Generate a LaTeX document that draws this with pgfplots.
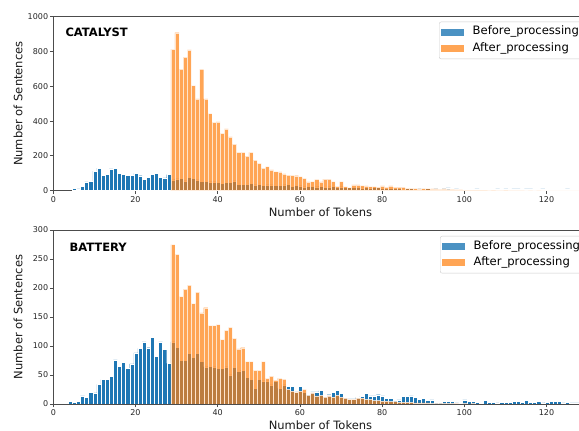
\documentclass[border=0pt]{standalone}
\usepackage{fontspec}
\setmainfont{DejaVu Sans}
\usepackage{pgfplots}
\usepackage{pgfplotstable}
\pgfplotsset{compat=1.18}
\definecolor{mblue}{HTML}{1F77B4}
\definecolor{morange}{HTML}{FF7F0E}
\definecolor{spine}{gray}{0.3}

\pgfplotstableread{
x b a
5 12 nan
6 10 nan
7 25 nan
8 50 nan
9 55 nan
10 112 nan
11 130 nan
12 90 nan
13 92 nan
14 125 nan
15 130 nan
16 98 nan
17 92 nan
18 89 nan
19 89 nan
20 100 nan
21 86 nan
22 65 nan
23 75 nan
24 92 nan
25 100 nan
26 75 nan
27 73 nan
28 93 nan
29 62 812
30 68 908
31 70 698
32 57 768
33 76 809
34 70 604
35 62 527
36 52 698
37 52 527
38 50 443
39 50 392
40 48 395
41 44 330
42 48 356
43 48 310
44 56 268
45 38 220
46 38 220
47 36 199
48 42 220
49 34 176
50 36 157
51 30 130
52 34 138
53 34 120
54 32 110
55 30 108
56 34 96
57 36 90
58 26 88
59 30 86
60 28 81
61 22 71
62 26 50
63 24 52
64 22 65
65 26 50
66 20 67
67 22 66
68 26 52
69 20 25
70 22 52
71 18 23
72 20 18
73 18 33
74 20 33
75 16 29
76 18 27
77 16 23
78 18 23
79 20 20
80 16 27
81 14 20
82 12 27
83 14 20
84 16 20
85 10 20
86 12 14
87 12 14
88 10 12
89 10 10
90 10 12
91 12 12
92 8 10
93 10 10
94 8 8
95 10 10
96 16 8
97 8 8
98 10 6
99 6 5
100 8 4
101 6 4
102 8 3
103 10 4
104 6 3
105 6 3
106 8 2
107 6 3
108 10 2
109 6 2
110 10 3
111 8 2
112 10 2
113 10 2
114 8 2
115 10 1
116 10 2
117 6 1
118 8 2
119 10 1
120 6 1
121 4 1
122 8 1
123 8 1
124 6 1
125 10 1
126 6 1
127 8 1
128 6 1
}\catalyst

\pgfplotstableread{
x b a
4 5 nan
5 3 nan
6 5 nan
7 14 nan
8 12 nan
9 20 nan
10 19 nan
11 34 nan
12 42 nan
13 43 nan
14 48 nan
15 76 nan
16 65 nan
17 72 nan
18 62 nan
19 69 nan
20 88 nan
21 96 nan
22 107 nan
23 97 nan
24 115 nan
25 82 nan
26 107 nan
27 94 nan
28 70 nan
29 107 275
30 98 258
31 75 185
32 75 198
33 87 205
34 81 173
35 87 193
36 73 157
37 64 166
38 65 135
39 64 135
40 61 137
41 61 111
42 64 127
43 50 132
44 63 113
45 56 95
46 58 97
47 46 73
48 43 73
49 27 58
50 42 58
51 40 73
52 40 44
53 33 48
54 40 41
55 27 44
56 33 43
57 31 25
58 30 22
59 21 20
60 30 22
61 20 25
62 17 15
63 21 19
64 21 14
65 23 15
66 13 12
67 16 14
68 20 12
69 23 15
70 18 12
71 12 10
72 9 8
73 9 8
74 12 10
75 13 10
76 18 8
77 14 8
78 14 6
79 16 6
80 14 5
81 10 5
82 10 4
83 6 4
84 7 3
85 13 3
86 13 3
87 14 3
88 12 2
89 8 2
90 10 2
91 6 2
92 7 1
93 3 1
94 3 1
95 4 1
96 5 1
97 5 1
98 2 1
100 7 1
101 5 nan
102 5 1
103 3 nan
105 6 nan
106 3 nan
107 3 nan
108 2 nan
109 3 nan
110 3 nan
111 3 nan
112 4 nan
113 5 nan
114 3 nan
115 6 nan
116 3 nan
117 3 nan
118 4 nan
119 2 nan
120 3 nan
121 4 nan
122 5 nan
123 4 nan
124 2 nan
125 3 nan
126 2 nan
127 2 nan
128 2 nan
}\battery

\pgfplotsset{
  legend image code/.code={\fill[#1,draw=none,rounded corners=0pt] (0pt,-3.5pt) rectangle (23pt,3.5pt);},
  hist/.style={
    scale only axis, width=534.3pt, height=174pt,
    xmin=0, xmax=130, ymin=0,
    xtick={0,20,...,120},
    axis line style={spine, line width=0.8pt},
    tick style={spine, line width=0.8pt},
    tick align=outside, tick pos=left, major tick length=3.5pt,
    ticklabel style={font=\fontsize{8}{9}\selectfont, text=black!85},
    yticklabel style={inner sep=1.5pt},
    xticklabel style={inner sep=2pt},
    /pgf/number format/assume math mode=true,
    scaled y ticks=false,
    /pgf/number format/1000 sep={},
    label style={font=\fontsize{11.5}{13}\selectfont, text=black!90},
    xlabel={Number of Tokens}, ylabel={Number of Sentences},
    xlabel style={at={(axis description cs:0.5,-0.121)}, anchor=center},
    ylabel style={at={(axis description cs:-0.066,0.5)}, anchor=center},
    legend cell align=left,
    legend style={anchor=north west, draw=black!20, rounded corners=2pt,
      fill=white, fill opacity=0.8, text opacity=1,
      font=\fontsize{11.6}{13}\selectfont, inner xsep=2pt, inner ysep=2pt,
      row sep=0pt, column sep=5.5pt,
      nodes={inner sep=3pt, text height=8pt, text depth=2.5pt}},
  },
  bbar/.style={ybar, bar width=1, bar shift=0pt, fill=mblue, draw=white, line width=0.4pt},
  obar/.style={ybar, bar width=1, bar shift=0pt, fill=morange, fill opacity=0.7, draw=white, draw opacity=0.7, line width=0.4pt},
}

\begin{document}
\begin{tikzpicture}
\fill[white] (0,0) rectangle (579pt,431pt);
\begin{axis}[hist, at={(53.3pt,240.3pt)}, anchor=south west,
  ymax=1000, ytick={0,200,...,1000},
  legend style={at={(0.7219,0.9713)}}]
\addplot[bbar] table[x expr=\thisrow{x}+0.1, y=b] {\catalyst};
\addlegendentry{Before\_processing}
\addplot[obar] table[x expr=\thisrow{x}+0.1, y=a] {\catalyst};
\addlegendentry{After\_processing}
\node[anchor=west, font=\bfseries\fontsize{11.5}{13}\selectfont] at (rel axis cs:0.0163,0.908) {CATALYST};
\end{axis}
\begin{axis}[hist, at={(53.3pt,27pt)}, anchor=south west,
  ymax=300, ytick={0,50,...,300},
  legend style={at={(0.7238,0.9656)}}]
\addplot[bbar] table[x expr=\thisrow{x}+0.1, y=b] {\battery};
\addlegendentry{Before\_processing}
\addplot[obar] table[x expr=\thisrow{x}+0.1, y=a] {\battery};
\addlegendentry{After\_processing}
\node[anchor=west, font=\bfseries\fontsize{11.5}{13}\selectfont] at (rel axis cs:0.0238,0.902) {BATTERY};
\end{axis}
\pgfresetboundingbox
\path[use as bounding box] (0,0) rectangle (579pt,431pt);
\end{tikzpicture}
\end{document}
